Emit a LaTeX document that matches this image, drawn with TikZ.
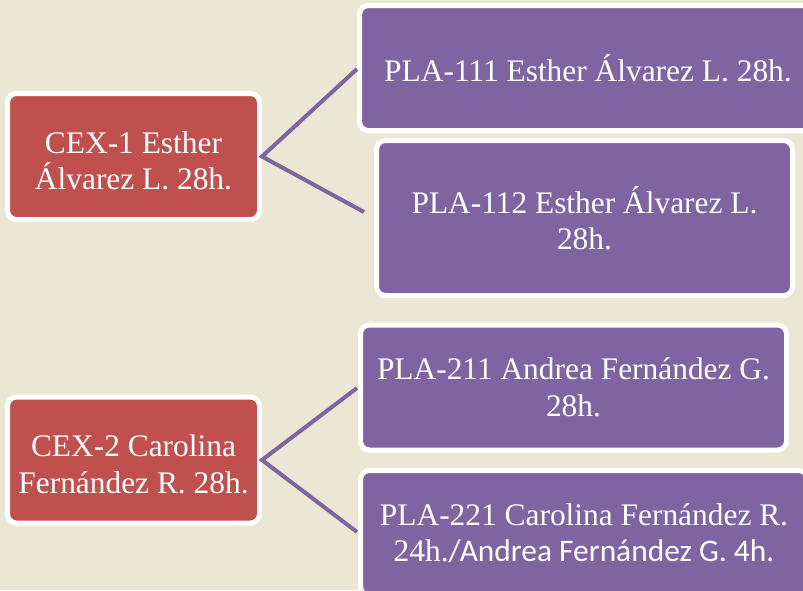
\documentclass[tikz,border=0pt]{standalone}
\usepackage{fontspec}
\setmainfont{Liberation Serif}
\newfontfamily\carlito{Carlito}
\definecolor{bg}{HTML}{EAE8D5}
\definecolor{redbox}{HTML}{C0504D}
\definecolor{purplebox}{HTML}{8064A2}
\begin{document}
\begin{tikzpicture}[x=1pt,y=-1pt,
  box/.style={draw=white, line width=5pt, rounded corners=9pt, inner sep=0pt,
    text=white, align=center, font=\fontsize{31.4}{36.5}\selectfont},
  parentbox/.style={box, fill=redbox, minimum width=252pt, minimum height=126pt},
  childbox/.style={box, fill=purplebox},
  link/.style={draw=purplebox, line width=4pt, line join=miter}]
\fill[bg] (0,0) rectangle (803,590);
\useasboundingbox (0,0) rectangle (803,590);
% parents
\node[parentbox] (cex1) at (133.5,156.5) {\rule{0pt}{30pt}CEX-1 Esther\\Álvarez L. 28h.};
\node[parentbox] (cex2) at (133.5,460) {\rule{0pt}{30pt}CEX-2 Carolina\\Fernández R. 28h.};
% children
\node[childbox, minimum width=457pt, minimum height=125pt] (p111) at (588,68) {PLA-111 Esther Álvarez L. 28h.};
\node[childbox, minimum width=416pt, minimum height=155pt] (p112) at (584.5,218) {PLA-112 Esther Álvarez L.\\28h.};
\node[childbox, minimum width=426pt, minimum height=125pt] (p211) at (573.5,387.5) {PLA-211 Andrea Fernández G.\\28h.};
\node[childbox, minimum width=447pt, minimum height=125pt] (p221) at (584,533) {PLA-221 Carolina Fernández R.\\24h.{\carlito /Andrea Fernández G. 4h.}};
% connector ends
\coordinate (e111) at (357,69);
\coordinate (e112) at (364,212);
\coordinate (e211) at (357,388);
\coordinate (e221) at (357,532);
\draw[link] (e111) -- (cex1.east) -- (e112);
\draw[link] (e211) -- (cex2.east) -- (e221);
\end{tikzpicture}
\end{document}
